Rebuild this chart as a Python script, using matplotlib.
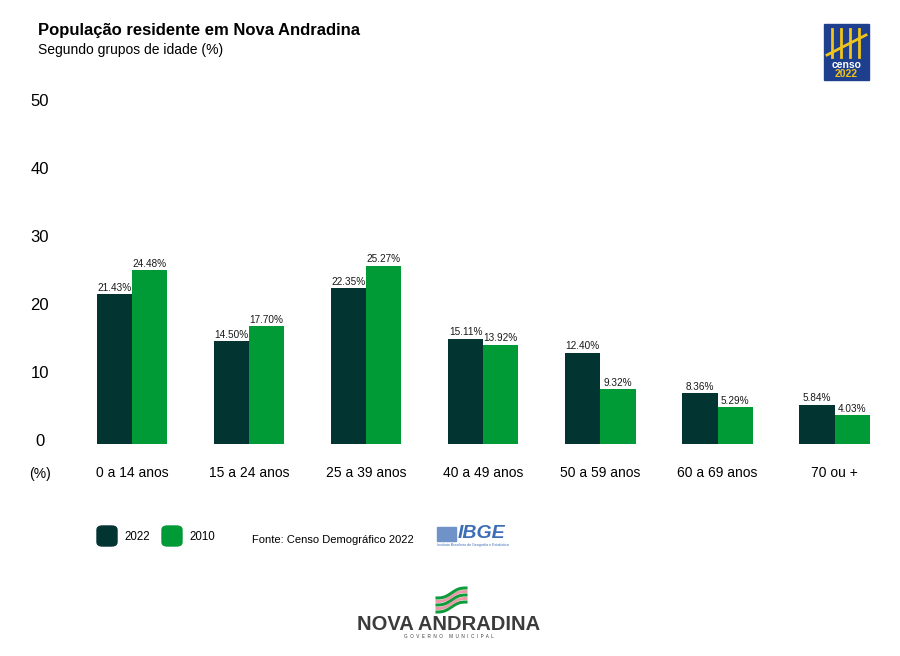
import matplotlib.pyplot as plt
from matplotlib.patches import FancyBboxPatch, Rectangle
from matplotlib.transforms import ScaledTranslation
import numpy as np

plt.rcParams['font.family'] = ['Liberation Sans', 'DejaVu Sans']

# dados
grupos = ['0 a 14 anos', '15 a 24 anos', '25 a 39 anos', '40 a 49 anos',
          '50 a 59 anos', '60 a 69 anos', '70 ou +']
# altura das barras como aparecem no gráfico original
altura_2022 = [22.0, 15.1, 22.9, 15.5, 13.4, 7.5, 5.8]
altura_2010 = [25.6, 17.3, 26.2, 14.6, 8.1, 5.4, 4.2]
# rótulos impressos sobre as barras
rotulo_2022 = [21.43, 14.50, 22.35, 15.11, 12.40, 8.36, 5.84]
rotulo_2010 = [24.48, 17.70, 25.27, 13.92, 9.32, 5.29, 4.03]

COR_2022 = '#023532'
COR_2010 = '#009a36'

W, H = 900, 656


def fx(x):
    return x / W


def fy(y):
    return 1 - y / H


fig = plt.figure(figsize=(9, 6.56), dpi=100)
fig.patch.set_facecolor('white')

ax = fig.add_axes([fx(67.6), fy(444), 819.7 / W, 340 / H])
x = np.arange(len(grupos))
larg = 0.30
b1 = ax.bar(x - larg / 2, altura_2022, larg, color=COR_2022)
b2 = ax.bar(x + larg / 2, altura_2010, larg, color=COR_2010)
ax.bar_label(b1, labels=[f'{v:.2f}%' for v in rotulo_2022], padding=1,
             fontsize=7.2, color='#1a1a1a')
ax.bar_label(b2, labels=[f'{v:.2f}%' for v in rotulo_2010], padding=1,
             fontsize=7.2, color='#1a1a1a')

ax.set_xlim(-0.55, 6.45)
ax.set_ylim(0, 50)
ax.set_yticks(range(0, 51, 10))
ax.set_xticks(x)
ax.set_xticklabels(grupos, fontsize=10)
ax.tick_params(axis='both', length=0, colors='black')
ax.tick_params(axis='x', pad=16)
ax.tick_params(axis='y', pad=20, labelsize=12)
desloc = ScaledTranslation(0, 3 / 72, fig.dpi_scale_trans)
for lab in ax.get_yticklabels():
    lab.set_ha('center')
    lab.set_transform(lab.get_transform() + desloc)
for s in ax.spines.values():
    s.set_visible(False)

fig.text(fx(40), fy(474), '(%)', fontsize=10, ha='center', va='center')

# títulos
fig.text(fx(38), fy(30), 'População residente em Nova Andradina',
         fontsize=12, fontweight='bold', va='center')
fig.text(fx(38), fy(50), 'Segundo grupos de idade (%)', fontsize=10, va='center')

# legenda
for x0, cor, txt in [(97, COR_2022, '2022'), (162, COR_2010, '2010')]:
    fig.patches.append(FancyBboxPatch((fx(x0), fy(546)), fx(20), 20 / H,
                                      boxstyle='round,pad=0,rounding_size=0.006',
                                      transform=fig.transFigure, color=cor))
    fig.text(fx(x0 + 27), fy(537), txt, fontsize=8.3, va='center')

fig.text(fx(252), fy(540), 'Fonte: Censo Demográfico 2022', fontsize=8, va='center')

# logo IBGE
fig.patches.append(Rectangle((fx(437), fy(541)), fx(19), 14 / H,
                             transform=fig.transFigure, color='#6f93c9'))
fig.text(fx(458), fy(533), 'IBGE', fontsize=14, fontweight='bold', style='italic',
         color='#3d6db5', va='center')
fig.text(fx(437), fy(545), 'Instituto Brasileiro de Geografia e Estatística',
         fontsize=2.6, color='#3d6db5', va='center')

# logo Censo 2022
fig.patches.append(Rectangle((fx(824), fy(80)), fx(45), 56 / H,
                             transform=fig.transFigure, color='#1d3f8e'))
for xi in [832, 841, 850, 859]:
    fig.lines.append(plt.Line2D([fx(xi), fx(xi)], [fy(29), fy(57)],
                                transform=fig.transFigure, color='#f1c41a', lw=2))
fig.lines.append(plt.Line2D([fx(827), fx(866)], [fy(55), fy(35)],
                            transform=fig.transFigure, color='#f1c41a', lw=2))
fig.text(fx(846.5), fy(65), 'censo', fontsize=7.5, fontweight='bold',
         color='white', ha='center', va='center')
fig.text(fx(846.5), fy(74), '2022', fontsize=7.5, fontweight='bold',
         color='#f1c41a', ha='center', va='center')

# logo Nova Andradina
t = np.linspace(0, 1, 30)
for k, cor in enumerate(['#0f9b3c', '#e89aa6', '#0f9b3c', '#e89aa6', '#0f9b3c']):
    xs = fx(437 + 29 * t)
    ys = fy(612 - k * 3.5 - 10 * t + 1.5 * np.sin(t * 2 * np.pi))
    fig.lines.append(plt.Line2D(xs, ys, transform=fig.transFigure, color=cor, lw=2.2))
fig.text(fx(448.5), fy(624), 'NOVA ANDRADINA', fontsize=14.5, fontweight='bold',
         color='#3b3b3b', ha='center', va='center')
fig.text(fx(448.5), fy(636), '  '.join('GOVERNO MUNICIPAL'), fontsize=3.3,
         color='#3b3b3b', ha='center', va='center')

fig.savefig('out.png', dpi=100)
